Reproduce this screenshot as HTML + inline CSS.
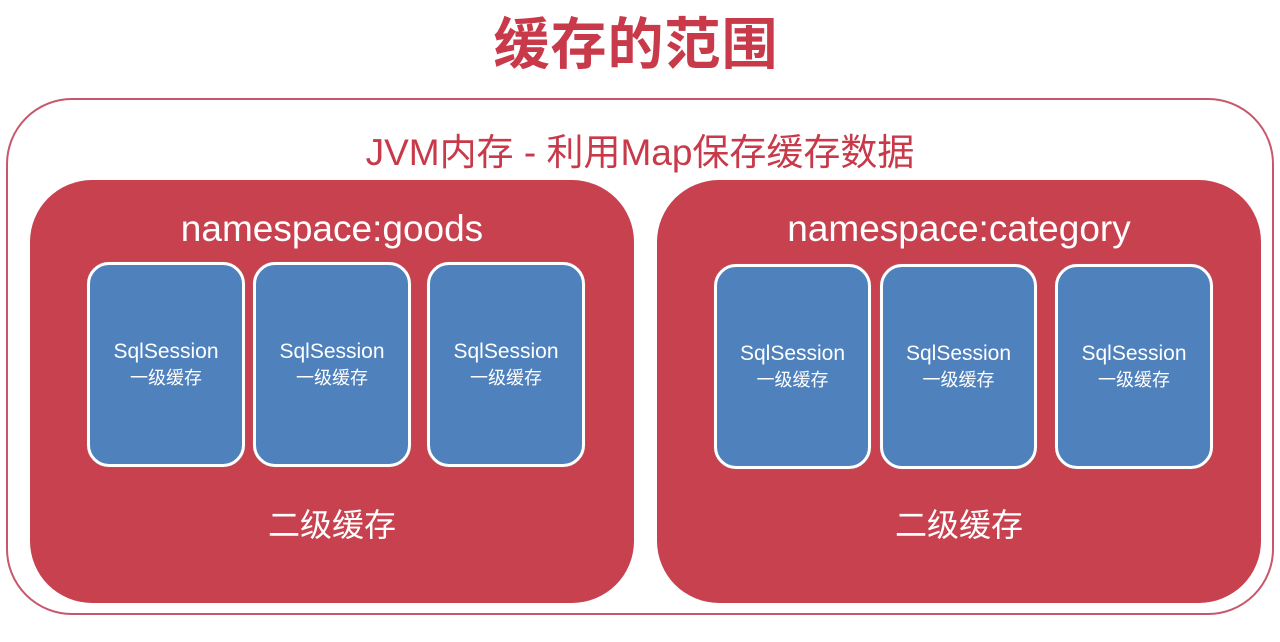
<!DOCTYPE html>
<html><head><meta charset="utf-8"><style>
body{margin:0;width:1280px;height:642px;background:#fff;position:relative;overflow:hidden;font-family:"Liberation Sans","Noto Sans CJK SC",sans-serif}
.a{position:absolute;box-sizing:border-box}
.t{position:absolute;left:0;width:100%;text-align:center;white-space:nowrap}
.red{background:#c8414f;border-radius:62px}
.blue{background:#4f81bd;border:3px solid #fff;border-radius:22px;color:#fff;box-shadow:0 0 1px #888}
</style></head><body>
<div class="t" style="top:10px;left:-4px;font-size:56px;font-weight:bold;color:#c8394a;line-height:70px;letter-spacing:1px">缓存的范围</div>
<div class="a" style="left:6px;top:98px;width:1268px;height:517px;border:2px solid #c8576a;border-radius:66px"></div>
<div class="t" style="top:131px;font-size:37px;color:#c8394a;line-height:44px">JVM内存 - 利用Map保存缓存数据</div>

<div class="a red" style="left:30px;top:180px;width:604px;height:423px">
 <div class="t" style="top:26px;font-size:37px;color:#fff;line-height:46px">namespace:goods</div>
 <div class="t" style="top:324px;font-size:32px;color:#fff;line-height:42px">二级缓存</div>
</div>
<div class="a red" style="left:657px;top:180px;width:604px;height:423px">
 <div class="t" style="top:26px;font-size:37px;color:#fff;line-height:46px">namespace:category</div>
 <div class="t" style="top:324px;font-size:32px;color:#fff;line-height:42px">二级缓存</div>
</div>

<div class="a blue" style="left:87px;top:262px;width:158px;height:205px"><div class="t" style="top:74px;font-size:21px;line-height:26px">SqlSession</div><div class="t" style="top:101px;font-size:18px;line-height:24px">一级缓存</div></div>
<div class="a blue" style="left:253px;top:262px;width:158px;height:205px"><div class="t" style="top:74px;font-size:21px;line-height:26px">SqlSession</div><div class="t" style="top:101px;font-size:18px;line-height:24px">一级缓存</div></div>
<div class="a blue" style="left:427px;top:262px;width:158px;height:205px"><div class="t" style="top:74px;font-size:21px;line-height:26px">SqlSession</div><div class="t" style="top:101px;font-size:18px;line-height:24px">一级缓存</div></div>

<div class="a blue" style="left:714px;top:264px;width:157px;height:205px"><div class="t" style="top:74px;font-size:21px;line-height:26px">SqlSession</div><div class="t" style="top:101px;font-size:18px;line-height:24px">一级缓存</div></div>
<div class="a blue" style="left:880px;top:264px;width:157px;height:205px"><div class="t" style="top:74px;font-size:21px;line-height:26px">SqlSession</div><div class="t" style="top:101px;font-size:18px;line-height:24px">一级缓存</div></div>
<div class="a blue" style="left:1055px;top:264px;width:158px;height:205px"><div class="t" style="top:74px;font-size:21px;line-height:26px">SqlSession</div><div class="t" style="top:101px;font-size:18px;line-height:24px">一级缓存</div></div>
</body></html>
